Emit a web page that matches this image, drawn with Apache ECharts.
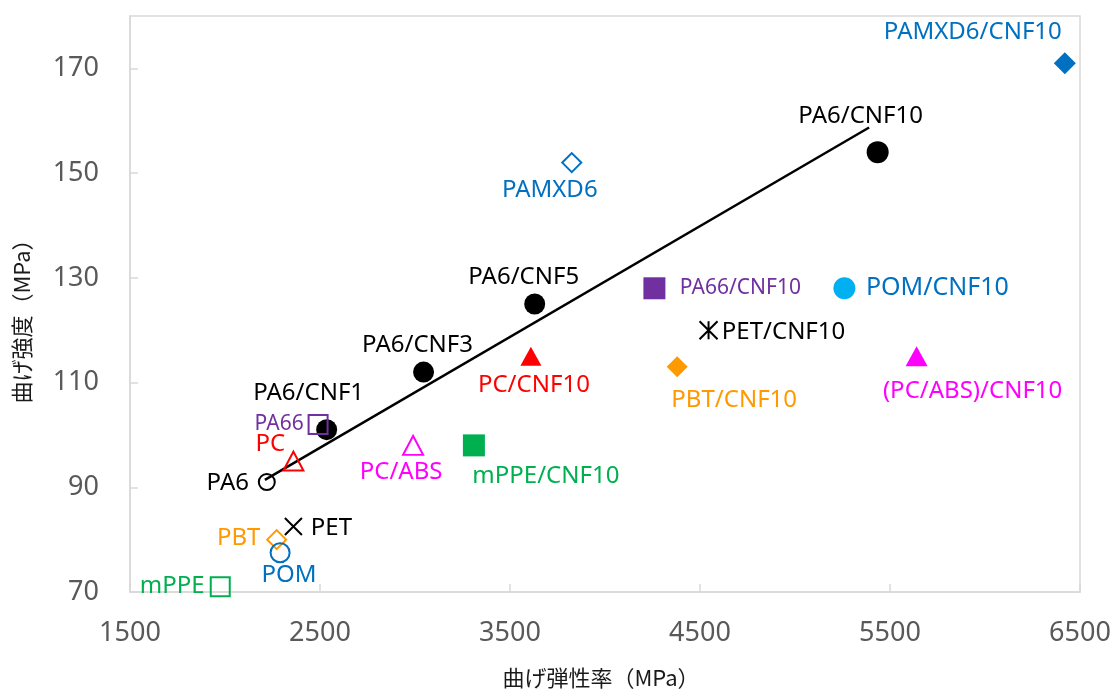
<!DOCTYPE html>
<html><head><meta charset="utf-8">
<script src="https://cdn.jsdelivr.net/npm/echarts@6/dist/echarts.min.js"></script>
<style>html,body{margin:0;padding:0;background:#fff}#c{width:1116px;height:689px}</style>
</head><body><div id="c"></div>
<script>
// ---- data ----
const names = ['PA6','PA6/CNF1','PA66','PA6/CNF3','PA6/CNF5','PA6/CNF10','PA66/CNF10','PAMXD6','PAMXD6/CNF10','PC','PC/CNF10','PC/ABS','(PC/ABS)/CNF10','mPPE','mPPE/CNF10','PBT','PBT/CNF10','PET','PET/CNF10','POM','POM/CNF10'];
const modulus  = [2220, 2535, 2490, 3045, 3630, 5435, 4260, 3825, 6420, 2360, 3610, 2990, 5640, 1975, 3310, 2272, 4380, 2360, 4545, 2290, 5260];
const strength = [91,   101,  102,  112,  125,  154,  128,  152,  171,  95,   115,  98,   115,  71,   98,   80,   113,  82.5, 120,  77.5, 128];
const trendModulus  = [2210, 5390];
const trendStrength = [91.4, 158.7];
const xTicks = [1500, 2500, 3500, 4500, 5500, 6500];
const yTicks = [70, 90, 110, 130, 150, 170];
const xAxisTitle = '曲げ弾性率（MPa）';
const yAxisTitle = '曲げ強度（MPa）';

// ---- styles (marker shape, colours, label placement) ----
const T = 'rgba(0,0,0,0)';
const X_PATH = 'path://M0 0L10 10M10 0L0 10';
const AST_PATH = 'path://M0 0L10 10M10 0L0 10M5 0L5 10';
const styles = {
  'PA6':            {sym:'circle',  size:16,      fill:T,         stroke:'#000000', bw:2,  text:'#000000', fs:24, off:[-39, 1]},
  'PA6/CNF1':       {sym:'circle',  size:21,      fill:'#000000', stroke:'#000000', bw:0,  text:'#000000', fs:24, off:[-18, -37]},
  'PA66':           {sym:'rect',    size:19,      fill:T,         stroke:'#7030a0', bw:2,  text:'#7030a0', fs:21, off:[-39, 0]},
  'PA6/CNF3':       {sym:'circle',  size:21,      fill:'#000000', stroke:'#000000', bw:0,  text:'#000000', fs:24, off:[-6, -27]},
  'PA6/CNF5':       {sym:'circle',  size:21,      fill:'#000000', stroke:'#000000', bw:0,  text:'#000000', fs:24, off:[-11, -27]},
  'PA6/CNF10':      {sym:'circle',  size:22,      fill:'#000000', stroke:'#000000', bw:0,  text:'#000000', fs:24, off:[-17, -36]},
  'PA66/CNF10':     {sym:'rect',    size:22,      fill:'#7030a0', stroke:'#7030a0', bw:0,  text:'#7030a0', fs:21, off:[86, 0]},
  'PAMXD6':         {sym:'diamond', size:19,      fill:T,         stroke:'#0070c0', bw:2,  text:'#0070c0', fs:24, off:[-22, 28]},
  'PAMXD6/CNF10':   {sym:'diamond', size:22,      fill:'#0070c0', stroke:'#0070c0', bw:0,  text:'#0070c0', fs:24, off:[-92, -31]},
  'PC':             {sym:'triangle',size:[20,19], fill:T,         stroke:'#ff0000', bw:2,  text:'#ff0000', fs:24, off:[-23, -17]},
  'PC/CNF10':       {sym:'triangle',size:[21,19], fill:'#ff0000', stroke:'#ff0000', bw:0,  text:'#ff0000', fs:24, off:[3, 29]},
  'PC/ABS':         {sym:'triangle',size:[20,19], fill:T,         stroke:'#ff00ff', bw:2,  text:'#ff00ff', fs:24, off:[-12, 27]},
  '(PC/ABS)/CNF10': {sym:'triangle',size:[22,20], fill:'#ff00ff', stroke:'#ff00ff', bw:0,  text:'#ff00ff', fs:24, off:[56, 35]},
  'mPPE':           {sym:'rect',    size:19,      fill:T,         stroke:'#00b050', bw:2,  text:'#00b050', fs:24, off:[-48, -1]},
  'mPPE/CNF10':     {sym:'rect',    size:22,      fill:'#00b050', stroke:'#00b050', bw:0,  text:'#00b050', fs:24, off:[72, 31]},
  'PBT':            {sym:'diamond', size:19,      fill:T,         stroke:'#ff9900', bw:2,  text:'#ff9900', fs:24, off:[-38, -1]},
  'PBT/CNF10':      {sym:'diamond', size:21,      fill:'#ff9900', stroke:'#ff9900', bw:0,  text:'#ff9900', fs:24, off:[57, 33]},
  'PET':            {sym:X_PATH,    size:17,      fill:T,         stroke:'#000000', bw:2,  text:'#000000', fs:24, off:[38, 2]},
  'PET/CNF10':      {sym:AST_PATH,  size:18,      fill:T,         stroke:'#000000', bw:2,  text:'#000000', fs:24, off:[75, 2]},
  'POM':            {sym:'circle',  size:19,      fill:T,         stroke:'#0070c0', bw:2,  text:'#0070c0', fs:24, off:[9, 22]},
  'POM/CNF10':      {sym:'circle',  size:22,      fill:'#00b0f0', stroke:'#00b0f0', bw:0,  text:'#0070c0', fs:25, off:[93, 0]}
};

const FONT = '"Noto Sans", "Noto Sans CJK JP", sans-serif';
const CJK = '"Noto Sans CJK JP", "Noto Sans", sans-serif';
const axisGrey = '#d9d9d9';

const points = names.map((n, i) => {
  const s = styles[n];
  return {
    name: n,
    value: [modulus[i], strength[i]],
    symbol: s.sym,
    symbolSize: s.size,
    itemStyle: {color: s.fill, borderColor: s.stroke, borderWidth: s.bw, opacity: 1},
    label: {show: true, formatter: n, position: 'inside', offset: s.off,
            color: s.text, fontSize: s.fs, fontFamily: FONT, opacity: 1}
  };
});

const chart = echarts.init(document.getElementById('c'), null, {renderer: 'canvas'});
chart.setOption({
  animation: false,
  backgroundColor: '#ffffff',
  grid: {left: 130, right: 36, top: 16, bottom: 97, show: true, containLabel: false,
         outerBoundsMode: 'none',
         borderColor: axisGrey, borderWidth: 1.5, backgroundColor: 'transparent'},
  xAxis: {
    type: 'value', min: 1500, max: 6500, interval: 500,
    splitLine: {show: false},
    axisLine: {lineStyle: {color: axisGrey, width: 1.5}},
    axisTick: {show: true, inside: true, length: 8, customValues: xTicks, lineStyle: {color: axisGrey, width: 1.5}},
    axisLabel: {customValues: xTicks, formatter: v => String(v), fontSize: 27, color: '#595959', margin: 28, fontFamily: FONT},
    name: xAxisTitle, nameLocation: 'middle', nameGap: 75,
    nameTextStyle: {fontSize: 22, color: '#1a1a1a', fontFamily: CJK, padding: [0, 8, 0, 0]}
  },
  yAxis: {
    type: 'value', min: 70, max: 180, interval: 10,
    splitLine: {show: false},
    axisLine: {lineStyle: {color: axisGrey, width: 1.5}},
    axisTick: {show: true, inside: true, length: 8, customValues: yTicks, lineStyle: {color: axisGrey, width: 1.5}},
    axisLabel: {customValues: yTicks, formatter: v => String(v), fontSize: 27, color: '#595959', margin: 31, fontFamily: FONT},
    name: yAxisTitle, nameLocation: 'middle', nameGap: 97,
    nameTextStyle: {fontSize: 22, color: '#1a1a1a', fontFamily: CJK, padding: [0, 24, 0, 0]}
  },
  series: [
    {
      type: 'line',
      data: trendModulus.map((x, i) => [x, trendStrength[i]]),
      showSymbol: false, symbol: 'none',
      lineStyle: {color: '#000000', width: 2.5},
      silent: true, z: 1
    },
    {
      type: 'scatter',
      data: points,
      silent: true, z: 2,
      emphasis: {disabled: true}
    }
  ]
});
</script>
</body></html>
